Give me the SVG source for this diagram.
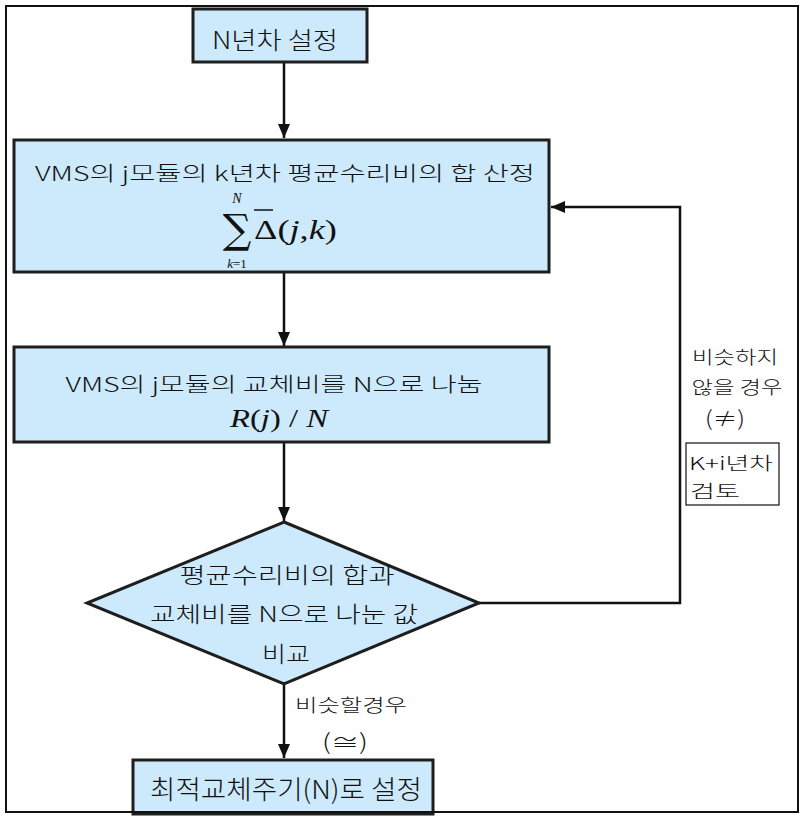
<svg xmlns="http://www.w3.org/2000/svg" width="806" height="818" viewBox="0 0 806 818">
<defs>
<style>
.box{fill:#cdeafc;stroke:#1e1e1e;stroke-width:3}
.t{font-family:"Noto Sans CJK KR","Liberation Sans",sans-serif;font-weight:300;fill:#111;dominant-baseline:central;text-anchor:middle}
.m{font-family:"Liberation Serif","DejaVu Serif",serif;fill:#111;font-style:italic;dominant-baseline:central}
.c{fill:none;stroke:#111;stroke-width:2.5}
</style>
<marker id="ah2" viewBox="0 0 14 12" refX="14" refY="6" markerWidth="14" markerHeight="12" orient="auto" markerUnits="userSpaceOnUse">
<path d="M0,0 L14,6 L0,12 z" fill="#111"/>
</marker>
</defs>
<rect x="0" y="0" width="806" height="818" fill="#fff"/>

<g id="connectors">
<line class="c" x1="284" y1="62" x2="284" y2="138" marker-end="url(#ah2)"/>
<line class="c" x1="284" y1="272" x2="284" y2="346" marker-end="url(#ah2)"/>
<line class="c" x1="284" y1="442" x2="284" y2="521" marker-end="url(#ah2)"/>
<polyline class="c" points="479,603 680,603 680,207 551,207" marker-end="url(#ah2)"/>
<line class="c" x1="284" y1="684" x2="284" y2="758" marker-end="url(#ah2)"/>
</g>

<g id="n1">
<rect class="box" x="193" y="9" width="174" height="53"/>
<text class="t" x="275" y="38" font-size="24" textLength="126" lengthAdjust="spacingAndGlyphs">N년차 설정</text>
</g>

<g id="n2">
<rect class="box" x="14" y="140" width="535" height="132"/>
<text class="t" x="285" y="172" font-size="20" textLength="500" lengthAdjust="spacingAndGlyphs">VMS의 j모듈의 k년차 평균수리비의 합 산정</text>
<text x="237" y="243" font-family="'DejaVu Serif','Liberation Serif',serif" font-size="40" text-anchor="middle" fill="#111">∑</text>
<text class="m" x="237" y="198" font-size="14" text-anchor="middle">N</text>
<text class="m" x="237" y="263" font-size="13" text-anchor="middle">k<tspan font-style="normal">=1</tspan></text>
<text x="254" y="229" font-family="'Liberation Serif',serif" font-size="28" fill="#111" dominant-baseline="central" textLength="83" lengthAdjust="spacingAndGlyphs">Δ(<tspan font-style="italic">j</tspan>,<tspan font-style="italic">k</tspan>)</text>
<line x1="254" y1="210" x2="273" y2="210" stroke="#111" stroke-width="1.5"/>
</g>

<g id="n3">
<rect class="box" x="14" y="347" width="535" height="95"/>
<text class="t" x="274" y="383" font-size="20" textLength="417" lengthAdjust="spacingAndGlyphs">VMS의 j모듈의 교체비를 N으로 나눔</text>
<text x="230" y="418" font-family="'Liberation Serif',serif" font-size="26" fill="#111" dominant-baseline="central" textLength="98" lengthAdjust="spacingAndGlyphs"><tspan font-style="italic">R</tspan>(<tspan font-style="italic">j</tspan>) / <tspan font-style="italic">N</tspan></text>
</g>

<g id="n4">
<polygon class="box" points="284,522 479,603 284,684 87,603"/>
<text class="t" x="287" y="573" font-size="22" textLength="215" lengthAdjust="spacingAndGlyphs">평균수리비의 합과</text>
<text class="t" x="284" y="612" font-size="22" textLength="268" lengthAdjust="spacingAndGlyphs">교체비를 N으로 나눈 값</text>
<text class="t" x="286" y="652" font-size="22" textLength="48" lengthAdjust="spacingAndGlyphs">비교</text>
</g>

<g id="n5">
<rect class="box" x="133" y="760" width="300" height="54"/>
<text class="t" x="286" y="787" font-size="26" textLength="272" lengthAdjust="spacingAndGlyphs">최적교체주기(N)로 설정</text>
</g>

<g id="label-no">
<text class="t" x="735" y="356" font-size="18" textLength="86" lengthAdjust="spacingAndGlyphs">비슷하지</text>
<text class="t" x="737" y="386" font-size="18" textLength="91" lengthAdjust="spacingAndGlyphs">않을 경우</text>
<text class="t" x="725" y="417" font-size="21" textLength="40" lengthAdjust="spacingAndGlyphs">(≠)</text>
</g>

<g id="n6">
<rect x="686" y="443" width="93" height="62" fill="#fff" stroke="#111" stroke-width="1.2"/>
<text class="t" x="731" y="462" font-size="18" textLength="84" lengthAdjust="spacingAndGlyphs">K+i년차</text>
<text class="t" x="715" y="490" font-size="18" textLength="50" lengthAdjust="spacingAndGlyphs">검토</text>
</g>

<g id="label-yes">
<text class="t" x="351" y="704" font-size="18" textLength="112" lengthAdjust="spacingAndGlyphs">비슷할경우</text>
<text class="t" x="345" y="740" font-size="22" textLength="46" lengthAdjust="spacingAndGlyphs">(≅)</text>
</g>

<rect x="6" y="6" width="792" height="806" fill="none" stroke="#111" stroke-width="2"/>
</svg>
